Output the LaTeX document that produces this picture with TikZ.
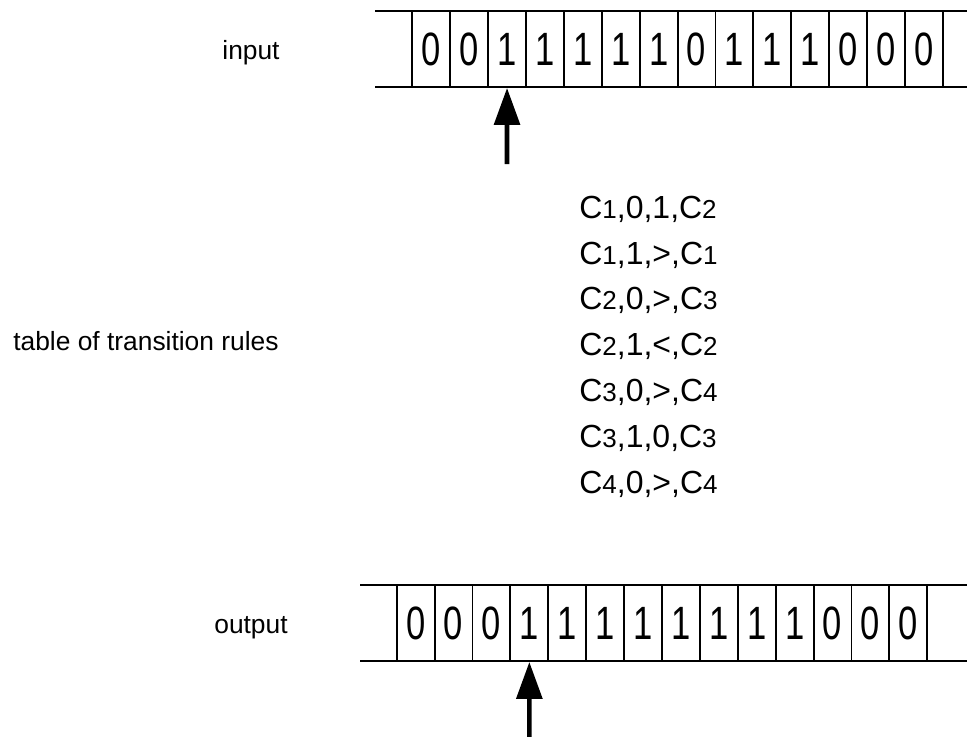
\documentclass[tikz,border=0pt]{standalone}
\usepackage{fontspec}
\setmainfont{Liberation Sans}
\usetikzlibrary{arrows.meta}
\usetikzlibrary{positioning}
\tikzset{cell/.style = {draw, line width=1.1pt, minimum width=0.758cm, minimum height=1.52cm,
                        inner sep=0, font=\fontsize{26.6}{28}\selectfont}}
\tikzset{tapeline/.style = {line width=1.1pt}}
\tikzset{head/.style = {line width=2.6pt, -{Triangle[length=0.74cm, width=0.51cm]}}}
\tikzset{sidetext/.style = {font=\fontsize{15}{18}\selectfont, inner sep=0}}
\tikzset{ruletext/.style = {font=\fontsize{18.2}{22}\selectfont, inner sep=0, anchor=base west}}
\newcommand{\cst}[1]{C{\fontsize{14.8}{16}\selectfont #1}}
\newcommand{\dig}[1]{\scalebox{0.74}[1]{#1}}

\begin{document}
\begin{tikzpicture}[x=0.02cm, y=-0.02cm]
  \useasboundingbox (0,0) rectangle (967,737);

  % input tape
  \draw [tapeline] (375,11) -- (967,11);
  \draw [tapeline] (375,87) -- (967,87);
  \foreach \d [count=\i] in {0,0,1,1,1,1,1,0,1,1,1,0,0,0}
    \node [cell] (in\i) at ({412.3+(\i-0.5)*37.9}, 49) {\dig{\d}};
  \node [sidetext, anchor=base] (input) at (251, 59.5) {input};
  \coordinate (inhead) at (507, 164);
  \draw [head] (inhead) -- (in3.south);

  % rules
  \node [sidetext, anchor=base west] (table) at (13, 350) {table of transition rules};
  \foreach \r [count=\i] in {{\cst{1},0,1,\cst{2}}, {\cst{1},1,>,\cst{1}},
                             {\cst{2},0,>,\cst{3}}, {\cst{2},1,<,\cst{2}},
                             {\cst{3},0,>,\cst{4}}, {\cst{3},1,0,\cst{3}},
                             {\cst{4},0,>,\cst{4}}}
    \node [ruletext] (rule\i) at (579, {218.3+(\i-1)*45.8}) {\r};

  % output tape
  \draw [tapeline] (360,585) -- (967,585);
  \draw [tapeline] (360,661) -- (967,661);
  \foreach \d [count=\i] in {0,0,0,1,1,1,1,1,1,1,1,0,0,0}
    \node [cell] (out\i) at ({396.7+(\i-0.5)*37.9}, 623) {\dig{\d}};
  \node [sidetext, anchor=base] (output) at (251, 633) {output};
  \coordinate (outhead) at (529.35, 737);
  \draw [head] (outhead) -- (out4.south);
\end{tikzpicture}
\end{document}
